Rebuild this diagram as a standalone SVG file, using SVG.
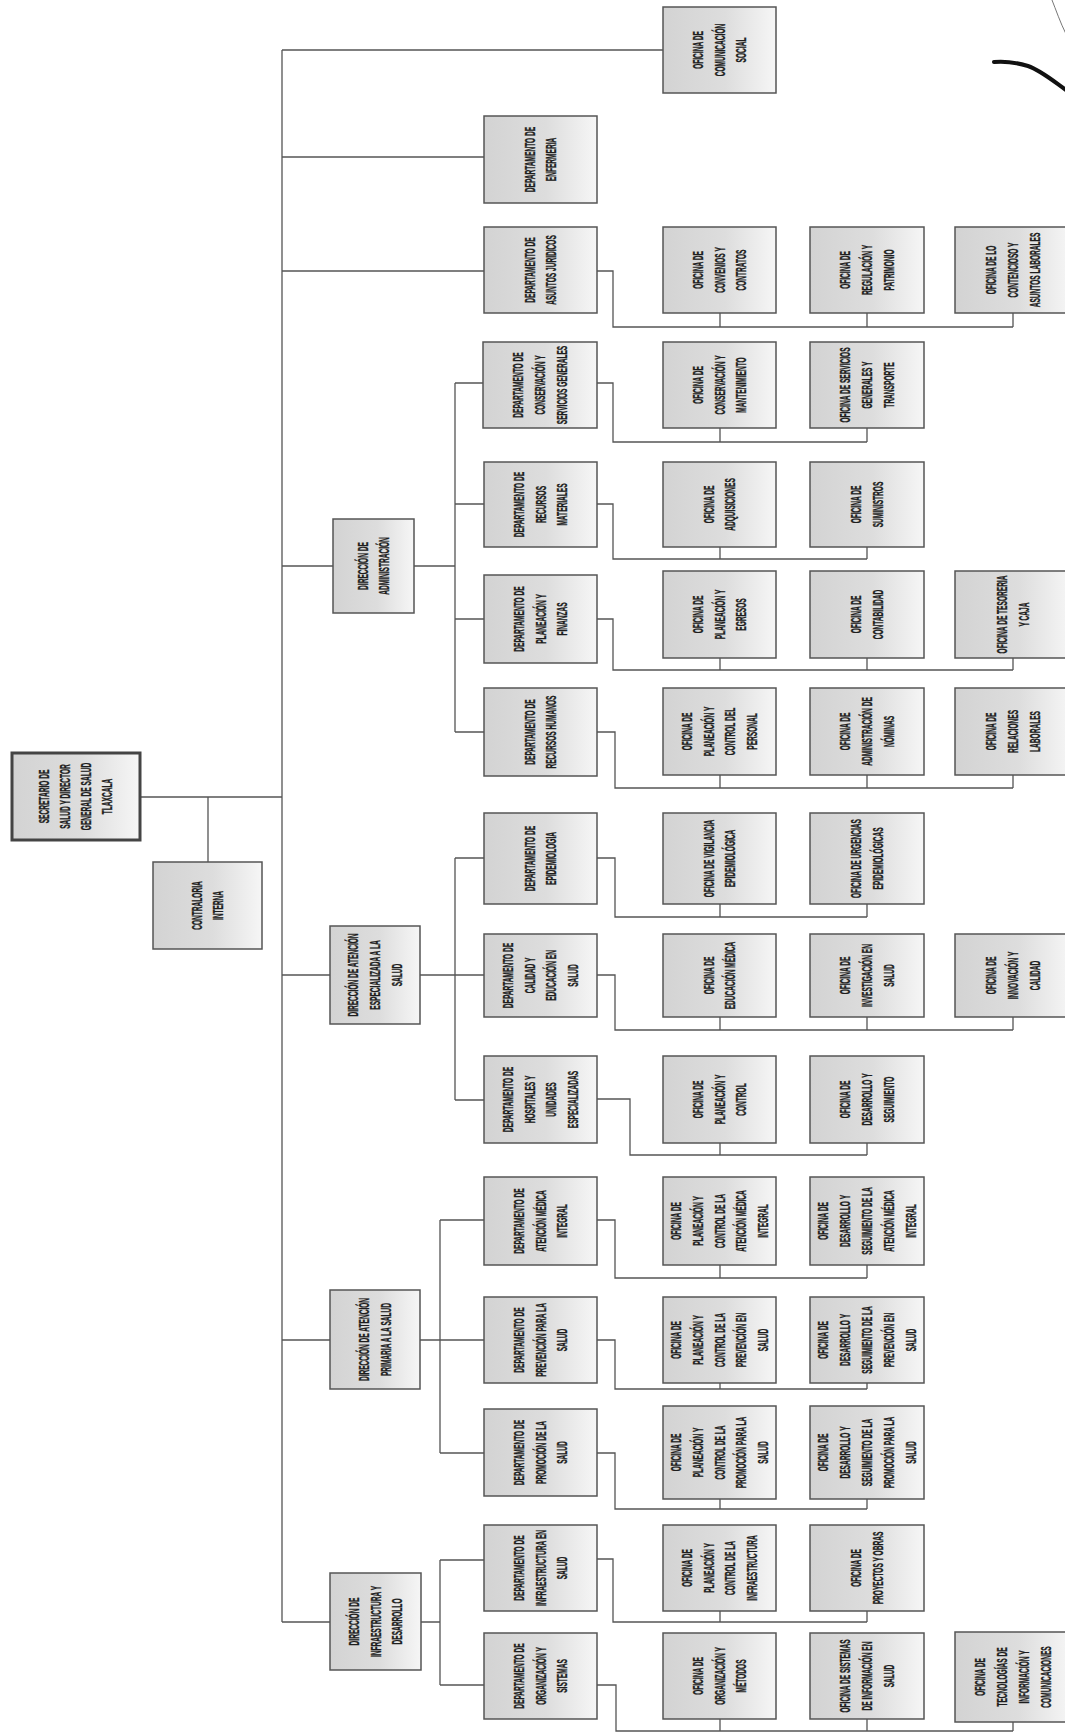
<svg xmlns="http://www.w3.org/2000/svg" width="1065" height="1735" viewBox="0 0 1065 1735">
<defs>
<linearGradient id="g" x1="0" y1="0" x2="1" y2="0">
<stop offset="0" stop-color="#d3d3d3"/>
<stop offset="0.55" stop-color="#dddddd"/>
<stop offset="1" stop-color="#f6f6f6"/>
</linearGradient>
</defs>
<style>
.box{fill:url(#g);stroke:#555;stroke-width:1.5}
.top{stroke:#444;stroke-width:3}
.t{font-family:"Liberation Sans",Arial,sans-serif;font-weight:bold;font-size:14px;fill:#1e1e1e;stroke:#1e1e1e;stroke-width:0.35;text-anchor:middle}
.c{fill:none;stroke:#555;stroke-width:1.3}
</style>
<rect x="0" y="0" width="1065" height="1735" fill="#fff"/>
<g id="connectors" class="c">
<path d="M140,797 H282 M208,797 V862 M282,50 V1622"/>
<path d="M282,50 H663 M282,157 H484 M282,271 H484 M282,566 H333 M282,975 H330 M282,1340 H330 M282,1622 H330"/>
<path d="M414,566 H455 M455,383 V732 M455,383 H483 M455,504 H484 M455,619 H484 M455,732 H484"/>
<path d="M420,975 H484 M455,858 V1100 M455,858 H484 M455,1100 H484"/>
<path d="M420,1340 H484 M440,1220 V1453 M440,1220 H484 M440,1453 H484"/>
<path d="M421,1622 H440 M440,1560 V1685 M440,1560 H484 M440,1685 H484"/>
<path d="M597,271 H613 V327 H1013 M720,313 V327 M867,313 V327 M1013,313 V327"/>
<path d="M597,383 H613 V442 H867 M720,428 V442 M867,428 V442"/>
<path d="M597,504 H613 V559 H867 M720,547 V559 M867,547 V559"/>
<path d="M597,619 H613 V670 H1013 M720,658 V670 M867,658 V670 M1013,658 V670"/>
<path d="M597,732 H615 V788 H1013 M720,775 V788 M867,775 V788 M1013,775 V788"/>
<path d="M597,858 H615 V917 H867 M720,904 V917 M867,904 V917"/>
<path d="M597,975 H615 V1030 H1013 M720,1017 V1030 M867,1017 V1030 M1013,1017 V1030"/>
<path d="M597,1099 H630 V1155 H867 M720,1143 V1155 M867,1143 V1155"/>
<path d="M597,1220 H615 V1278 H867 M720,1265 V1278 M867,1265 V1278"/>
<path d="M597,1340 H615 V1389 H867 M720,1383 V1389 M867,1383 V1389"/>
<path d="M597,1453 H615 V1509 H867 M720,1499 V1509 M867,1499 V1509"/>
<path d="M597,1559 H613 V1622 H867 M720,1611 V1622 M867,1611 V1622"/>
<path d="M597,1685 H616 V1731 H1013 M720,1719 V1731 M867,1719 V1731 M1013,1722 V1731"/>
</g>
<g id="n-sec"><rect class="box top" x="12" y="753" width="128" height="87"/><text class="t" transform="translate(76,796.5) rotate(-90) scale(0.47,1)"><tspan x="0" y="-27">SECRETARIO DE</tspan><tspan x="0" y="-6">SALUD Y DIRECTOR</tspan><tspan x="0" y="15">GENERAL DE SALUD</tspan><tspan x="0" y="36">TLAXCALA</tspan></text></g>
<g id="n-contra"><rect class="box" x="153" y="862" width="109" height="87"/><text class="t" transform="translate(207.5,905.5) rotate(-90) scale(0.47,1)"><tspan x="0" y="-6">CONTRALORIA</tspan><tspan x="0" y="16">INTERNA</tspan></text></g>
<g id="n-comsoc"><rect class="box" x="663" y="7" width="113" height="86"/><text class="t" transform="translate(719.5,50) rotate(-90) scale(0.47,1)"><tspan x="0" y="-17">OFICINA DE</tspan><tspan x="0" y="5">COMUNICACIÓN</tspan><tspan x="0" y="27">SOCIAL</tspan></text></g>
<g id="n-enf"><rect class="box" x="484" y="116" width="113" height="87"/><text class="t" transform="translate(540.5,159.5) rotate(-90) scale(0.47,1)"><tspan x="0" y="-6">DEPARTAMENTO DE</tspan><tspan x="0" y="16">ENFERMERIA</tspan></text></g>
<g id="n-jur"><rect class="box" x="484" y="227" width="113" height="86"/><text class="t" transform="translate(540.5,270) rotate(-90) scale(0.47,1)"><tspan x="0" y="-6">DEPARTAMENTO DE</tspan><tspan x="0" y="16">ASUNTOS JURIDICOS</tspan></text></g>
<g id="n-convenios"><rect class="box" x="663" y="227" width="113" height="86"/><text class="t" transform="translate(719.5,270) rotate(-90) scale(0.47,1)"><tspan x="0" y="-17">OFICINA DE</tspan><tspan x="0" y="5">CONVENIOS Y</tspan><tspan x="0" y="27">CONTRATOS</tspan></text></g>
<g id="n-regulacion"><rect class="box" x="810" y="227" width="114" height="86"/><text class="t" transform="translate(867,270) rotate(-90) scale(0.47,1)"><tspan x="0" y="-17">OFICINA DE</tspan><tspan x="0" y="5">REGULACIÓN Y</tspan><tspan x="0" y="27">PATRIMONIO</tspan></text></g>
<g id="n-contencioso"><rect class="box" x="955" y="227" width="116" height="86"/><text class="t" transform="translate(1013,270) rotate(-90) scale(0.47,1)"><tspan x="0" y="-17">OFICINA DE LO</tspan><tspan x="0" y="5">CONTENCIOSO Y</tspan><tspan x="0" y="27">ASUNTOS LABORALES</tspan></text></g>
<g id="n-conserv"><rect class="box" x="483" y="342" width="114" height="86"/><text class="t" transform="translate(540,385) rotate(-90) scale(0.47,1)"><tspan x="0" y="-17">DEPARTAMENTO DE</tspan><tspan x="0" y="5">CONSERVACIÓN Y</tspan><tspan x="0" y="27">SERVICIOS GENERALES</tspan></text></g>
<g id="n-conservmant"><rect class="box" x="663" y="342" width="113" height="86"/><text class="t" transform="translate(719.5,385) rotate(-90) scale(0.47,1)"><tspan x="0" y="-17">OFICINA DE</tspan><tspan x="0" y="5">CONSERVACIÓN Y</tspan><tspan x="0" y="27">MANTENIMIENTO</tspan></text></g>
<g id="n-servgen"><rect class="box" x="810" y="342" width="114" height="86"/><text class="t" transform="translate(867,385) rotate(-90) scale(0.47,1)"><tspan x="0" y="-17">OFICINA DE SERVICIOS</tspan><tspan x="0" y="5">GENERALES Y</tspan><tspan x="0" y="27">TRANSPORTE</tspan></text></g>
<g id="n-matl"><rect class="box" x="484" y="462" width="113" height="85"/><text class="t" transform="translate(540.5,504.5) rotate(-90) scale(0.47,1)"><tspan x="0" y="-17">DEPARTAMENTO DE</tspan><tspan x="0" y="5">RECURSOS</tspan><tspan x="0" y="27">MATERIALES</tspan></text></g>
<g id="n-adq"><rect class="box" x="663" y="462" width="113" height="85"/><text class="t" transform="translate(719.5,504.5) rotate(-90) scale(0.47,1)"><tspan x="0" y="-6">OFICINA DE</tspan><tspan x="0" y="16">ADQUISICIONES</tspan></text></g>
<g id="n-sum"><rect class="box" x="810" y="462" width="114" height="85"/><text class="t" transform="translate(867,504.5) rotate(-90) scale(0.47,1)"><tspan x="0" y="-6">OFICINA DE</tspan><tspan x="0" y="16">SUMINISTROS</tspan></text></g>
<g id="n-dadmin"><rect class="box" x="333" y="519" width="81" height="94"/><text class="t" transform="translate(373.5,566) rotate(-90) scale(0.47,1)"><tspan x="0" y="-6">DIRECCIÓN DE</tspan><tspan x="0" y="16">ADMINISTRACIÓN</tspan></text></g>
<g id="n-finz"><rect class="box" x="484" y="575" width="113" height="88"/><text class="t" transform="translate(540.5,619) rotate(-90) scale(0.47,1)"><tspan x="0" y="-17">DEPARTAMENTO DE</tspan><tspan x="0" y="5">PLANEACIÓN Y</tspan><tspan x="0" y="27">FINANZAS</tspan></text></g>
<g id="n-planegr"><rect class="box" x="663" y="571" width="113" height="87"/><text class="t" transform="translate(719.5,614.5) rotate(-90) scale(0.47,1)"><tspan x="0" y="-17">OFICINA DE</tspan><tspan x="0" y="5">PLANEACIÓN Y</tspan><tspan x="0" y="27">EGRESOS</tspan></text></g>
<g id="n-contab"><rect class="box" x="810" y="571" width="114" height="87"/><text class="t" transform="translate(867,614.5) rotate(-90) scale(0.47,1)"><tspan x="0" y="-6">OFICINA DE</tspan><tspan x="0" y="16">CONTABILIDAD</tspan></text></g>
<g id="n-teso"><rect class="box" x="955" y="571" width="116" height="87"/><text class="t" transform="translate(1013,614.5) rotate(-90) scale(0.47,1)"><tspan x="0" y="-6">OFICINA DE TESORERIA</tspan><tspan x="0" y="16">Y CAJA</tspan></text></g>
<g id="n-rh"><rect class="box" x="484" y="688" width="113" height="88"/><text class="t" transform="translate(540.5,732) rotate(-90) scale(0.47,1)"><tspan x="0" y="-6">DEPARTAMENTO DE</tspan><tspan x="0" y="16">RECURSOS HUMANOS</tspan></text></g>
<g id="n-planpers"><rect class="box" x="663" y="688" width="113" height="87"/><text class="t" transform="translate(719.5,731.5) rotate(-90) scale(0.47,1)"><tspan x="0" y="-28">OFICINA DE</tspan><tspan x="0" y="-6">PLANEACIÓN Y</tspan><tspan x="0" y="16">CONTROL DEL</tspan><tspan x="0" y="38">PERSONAL</tspan></text></g>
<g id="n-nominas"><rect class="box" x="810" y="688" width="114" height="87"/><text class="t" transform="translate(867,731.5) rotate(-90) scale(0.47,1)"><tspan x="0" y="-17">OFICINA DE</tspan><tspan x="0" y="5">ADMINISTRACIÓN DE</tspan><tspan x="0" y="27">NÓMINAS</tspan></text></g>
<g id="n-rellab"><rect class="box" x="955" y="688" width="116" height="87"/><text class="t" transform="translate(1013,731.5) rotate(-90) scale(0.47,1)"><tspan x="0" y="-17">OFICINA DE</tspan><tspan x="0" y="5">RELACIONES</tspan><tspan x="0" y="27">LABORALES</tspan></text></g>
<g id="n-epid"><rect class="box" x="484" y="813" width="113" height="91"/><text class="t" transform="translate(540.5,858.5) rotate(-90) scale(0.47,1)"><tspan x="0" y="-6">DEPARTAMENTO DE</tspan><tspan x="0" y="16">EPIDEMIOLOGIA</tspan></text></g>
<g id="n-vigil"><rect class="box" x="663" y="813" width="113" height="91"/><text class="t" transform="translate(719.5,858.5) rotate(-90) scale(0.47,1)"><tspan x="0" y="-6">OFICINA DE VIGILANCIA</tspan><tspan x="0" y="16">EPIDEMIOLÓGICA</tspan></text></g>
<g id="n-urg"><rect class="box" x="810" y="813" width="114" height="91"/><text class="t" transform="translate(867,858.5) rotate(-90) scale(0.47,1)"><tspan x="0" y="-6">OFICINA DE URGENCIAS</tspan><tspan x="0" y="16">EPIDEMIOLÓGICAS</tspan></text></g>
<g id="n-desp"><rect class="box" x="330" y="926" width="90" height="98"/><text class="t" transform="translate(375,975) rotate(-90) scale(0.47,1)"><tspan x="0" y="-17">DIRECCIÓN DE ATENCIÓN</tspan><tspan x="0" y="5">ESPECIALIZADA A LA</tspan><tspan x="0" y="27">SALUD</tspan></text></g>
<g id="n-calidad"><rect class="box" x="484" y="934" width="113" height="83"/><text class="t" transform="translate(540.5,975.5) rotate(-90) scale(0.47,1)"><tspan x="0" y="-28">DEPARTAMENTO DE</tspan><tspan x="0" y="-6">CALIDAD Y</tspan><tspan x="0" y="16">EDUCACIÓN EN</tspan><tspan x="0" y="38">SALUD</tspan></text></g>
<g id="n-edmed"><rect class="box" x="663" y="934" width="113" height="83"/><text class="t" transform="translate(719.5,975.5) rotate(-90) scale(0.47,1)"><tspan x="0" y="-6">OFICINA DE</tspan><tspan x="0" y="16">EDUCACIÓN MÉDICA</tspan></text></g>
<g id="n-invest"><rect class="box" x="810" y="934" width="114" height="83"/><text class="t" transform="translate(867,975.5) rotate(-90) scale(0.47,1)"><tspan x="0" y="-17">OFICINA DE</tspan><tspan x="0" y="5">INVESTIGACIÓN EN</tspan><tspan x="0" y="27">SALUD</tspan></text></g>
<g id="n-innov"><rect class="box" x="955" y="934" width="116" height="83"/><text class="t" transform="translate(1013,975.5) rotate(-90) scale(0.47,1)"><tspan x="0" y="-17">OFICINA DE</tspan><tspan x="0" y="5">INNOVACIÓN Y</tspan><tspan x="0" y="27">CALIDAD</tspan></text></g>
<g id="n-hosp"><rect class="box" x="484" y="1056" width="113" height="87"/><text class="t" transform="translate(540.5,1099.5) rotate(-90) scale(0.47,1)"><tspan x="0" y="-28">DEPARTAMENTO DE</tspan><tspan x="0" y="-6">HOSPITALES Y</tspan><tspan x="0" y="16">UNIDADES</tspan><tspan x="0" y="38">ESPECIALIZADAS</tspan></text></g>
<g id="n-plancont"><rect class="box" x="663" y="1056" width="113" height="87"/><text class="t" transform="translate(719.5,1099.5) rotate(-90) scale(0.47,1)"><tspan x="0" y="-17">OFICINA DE</tspan><tspan x="0" y="5">PLANEACIÓN Y</tspan><tspan x="0" y="27">CONTROL</tspan></text></g>
<g id="n-desseg"><rect class="box" x="810" y="1056" width="114" height="87"/><text class="t" transform="translate(867,1099.5) rotate(-90) scale(0.47,1)"><tspan x="0" y="-17">OFICINA DE</tspan><tspan x="0" y="5">DESARROLLO Y</tspan><tspan x="0" y="27">SEGUIMIENTO</tspan></text></g>
<g id="n-ami"><rect class="box" x="484" y="1177" width="113" height="88"/><text class="t" transform="translate(540.5,1221) rotate(-90) scale(0.47,1)"><tspan x="0" y="-17">DEPARTAMENTO DE</tspan><tspan x="0" y="5">ATENCIÓN MÉDICA</tspan><tspan x="0" y="27">INTEGRAL</tspan></text></g>
<g id="n-planami"><rect class="box" x="663" y="1177" width="113" height="88"/><text class="t" transform="translate(719.5,1221) rotate(-90) scale(0.47,1)"><tspan x="0" y="-39">OFICINA DE</tspan><tspan x="0" y="-17">PLANEACIÓN Y</tspan><tspan x="0" y="5">CONTROL DE LA</tspan><tspan x="0" y="27">ATENCIÓN MÉDICA</tspan><tspan x="0" y="49">INTEGRAL</tspan></text></g>
<g id="n-desami"><rect class="box" x="810" y="1177" width="114" height="88"/><text class="t" transform="translate(867,1221) rotate(-90) scale(0.47,1)"><tspan x="0" y="-39">OFICINA DE</tspan><tspan x="0" y="-17">DESARROLLO Y</tspan><tspan x="0" y="5">SEGUIMIENTO DE LA</tspan><tspan x="0" y="27">ATENCIÓN MÉDICA</tspan><tspan x="0" y="49">INTEGRAL</tspan></text></g>
<g id="n-dprim"><rect class="box" x="330" y="1290" width="90" height="99"/><text class="t" transform="translate(375,1339.5) rotate(-90) scale(0.47,1)"><tspan x="0" y="-6">DIRECCIÓN DE ATENCIÓN</tspan><tspan x="0" y="16">PRIMARIA A LA SALUD</tspan></text></g>
<g id="n-prev"><rect class="box" x="484" y="1297" width="113" height="86"/><text class="t" transform="translate(540.5,1340) rotate(-90) scale(0.47,1)"><tspan x="0" y="-17">DEPARTAMENTO DE</tspan><tspan x="0" y="5">PREVENCIÓN PARA LA</tspan><tspan x="0" y="27">SALUD</tspan></text></g>
<g id="n-planprev"><rect class="box" x="663" y="1297" width="113" height="86"/><text class="t" transform="translate(719.5,1340) rotate(-90) scale(0.47,1)"><tspan x="0" y="-39">OFICINA DE</tspan><tspan x="0" y="-17">PLANEACIÓN Y</tspan><tspan x="0" y="5">CONTROL DE LA</tspan><tspan x="0" y="27">PREVENCIÓN EN</tspan><tspan x="0" y="49">SALUD</tspan></text></g>
<g id="n-desprev"><rect class="box" x="810" y="1297" width="114" height="86"/><text class="t" transform="translate(867,1340) rotate(-90) scale(0.47,1)"><tspan x="0" y="-39">OFICINA DE</tspan><tspan x="0" y="-17">DESARROLLO Y</tspan><tspan x="0" y="5">SEGUIMIENTO DE LA</tspan><tspan x="0" y="27">PREVENCIÓN EN</tspan><tspan x="0" y="49">SALUD</tspan></text></g>
<g id="n-prom"><rect class="box" x="484" y="1409" width="113" height="87"/><text class="t" transform="translate(540.5,1452.5) rotate(-90) scale(0.47,1)"><tspan x="0" y="-17">DEPARTAMENTO DE</tspan><tspan x="0" y="5">PROMOCIÓN DE LA</tspan><tspan x="0" y="27">SALUD</tspan></text></g>
<g id="n-planprom"><rect class="box" x="663" y="1406" width="113" height="93"/><text class="t" transform="translate(719.5,1452.5) rotate(-90) scale(0.47,1)"><tspan x="0" y="-39">OFICINA DE</tspan><tspan x="0" y="-17">PLANEACIÓN Y</tspan><tspan x="0" y="5">CONTROL DE LA</tspan><tspan x="0" y="27">PROMOCIÓN PARA LA</tspan><tspan x="0" y="49">SALUD</tspan></text></g>
<g id="n-desprom"><rect class="box" x="810" y="1406" width="114" height="93"/><text class="t" transform="translate(867,1452.5) rotate(-90) scale(0.47,1)"><tspan x="0" y="-39">OFICINA DE</tspan><tspan x="0" y="-17">DESARROLLO Y</tspan><tspan x="0" y="5">SEGUIMIENTO DE LA</tspan><tspan x="0" y="27">PROMOCIÓN PARA LA</tspan><tspan x="0" y="49">SALUD</tspan></text></g>
<g id="n-dinfra"><rect class="box" x="330" y="1573" width="91" height="97"/><text class="t" transform="translate(375.5,1621.5) rotate(-90) scale(0.47,1)"><tspan x="0" y="-17">DIRECCIÓN DE</tspan><tspan x="0" y="5">INFRAESTRUCTURA Y</tspan><tspan x="0" y="27">DESARROLLO</tspan></text></g>
<g id="n-infra"><rect class="box" x="484" y="1525" width="113" height="86"/><text class="t" transform="translate(540.5,1568) rotate(-90) scale(0.47,1)"><tspan x="0" y="-17">DEPARTAMENTO DE</tspan><tspan x="0" y="5">INFRAESTRUCTURA EN</tspan><tspan x="0" y="27">SALUD</tspan></text></g>
<g id="n-planinfra"><rect class="box" x="663" y="1525" width="113" height="86"/><text class="t" transform="translate(719.5,1568) rotate(-90) scale(0.47,1)"><tspan x="0" y="-28">OFICINA DE</tspan><tspan x="0" y="-6">PLANEACIÓN Y</tspan><tspan x="0" y="16">CONTROL DE LA</tspan><tspan x="0" y="38">INFRAESTRUCTURA</tspan></text></g>
<g id="n-proy"><rect class="box" x="810" y="1525" width="114" height="86"/><text class="t" transform="translate(867,1568) rotate(-90) scale(0.47,1)"><tspan x="0" y="-6">OFICINA DE</tspan><tspan x="0" y="16">PROYECTOS Y OBRAS</tspan></text></g>
<g id="n-oys"><rect class="box" x="484" y="1633" width="113" height="86"/><text class="t" transform="translate(540.5,1676) rotate(-90) scale(0.47,1)"><tspan x="0" y="-17">DEPARTAMENTO DE</tspan><tspan x="0" y="5">ORGANIZACIÓN Y</tspan><tspan x="0" y="27">SISTEMAS</tspan></text></g>
<g id="n-orgmet"><rect class="box" x="663" y="1633" width="113" height="86"/><text class="t" transform="translate(719.5,1676) rotate(-90) scale(0.47,1)"><tspan x="0" y="-17">OFICINA DE</tspan><tspan x="0" y="5">ORGANIZACIÓN Y</tspan><tspan x="0" y="27">MÉTODOS</tspan></text></g>
<g id="n-sis"><rect class="box" x="810" y="1633" width="114" height="86"/><text class="t" transform="translate(867,1676) rotate(-90) scale(0.47,1)"><tspan x="0" y="-17">OFICINA DE SISTEMAS</tspan><tspan x="0" y="5">DE INFORMACIÓN EN</tspan><tspan x="0" y="27">SALUD</tspan></text></g>
<g id="n-tic"><rect class="box" x="955" y="1632" width="116" height="90"/><text class="t" transform="translate(1013,1677) rotate(-90) scale(0.47,1)"><tspan x="0" y="-28">OFICINA DE</tspan><tspan x="0" y="-6">TECNOLOGÍAS DE</tspan><tspan x="0" y="16">INFORMACIÓN Y</tspan><tspan x="0" y="38">COMUNICACIONES</tspan></text></g>
<g id="scribble" fill="none" stroke="#111" stroke-linecap="round">
<path d="M994,62 C1005,61 1018,63 1028,66 C1040,70 1052,80 1066,90" stroke-width="4"/>
<path d="M1052,0 C1056,10 1060,22 1066,34" stroke-width="1" stroke="#777"/>
</g>
</svg>
